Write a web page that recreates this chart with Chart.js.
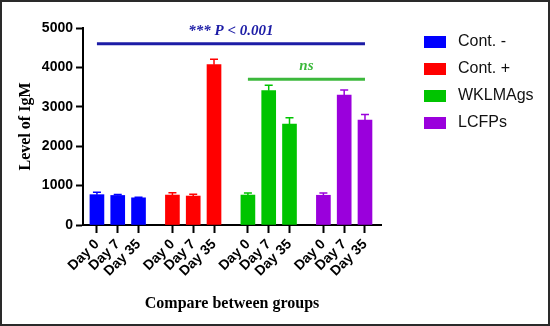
<!DOCTYPE html>
<html>
<head>
<meta charset="utf-8">
<script src="https://cdn.jsdelivr.net/npm/chart.js@4/dist/chart.umd.min.js"></script>
<style>
  html, body { margin: 0; padding: 0; background: #fff; }
  #wrap { position: relative; width: 550px; height: 326px; }
  #frame { position: absolute; left: 0; top: 0; width: 550px; height: 326px; box-sizing: border-box; border: 2px solid #2a2a2a; pointer-events: none; }
</style>
</head>
<body>
<div id="wrap">
  <canvas id="chart" width="550" height="326"></canvas>
  <div id="frame"></div>
</div>
<script>
// data
const groups = ['Cont. -', 'Cont. +', 'WKLMAgs', 'LCFPs'];
const days = ['Day 0', 'Day 7', 'Day 35'];
const contNeg = [770, 750, 690];
const contPos = [760, 735, 4070];
const wklm = [760, 3410, 2560];
const lcfp = [755, 3300, 2660];
const contNegErr = [60, 25, 15];
const contPosErr = [60, 45, 140];
const wklmErr = [55, 140, 160];
const lcfpErr = [55, 125, 145];
const colors = ['#0000ff', '#ff0000', '#00c400', '#9a00dc'];
const yTicks = [0, 1000, 2000, 3000, 4000, 5000];

// significance bars: [first group, last group], level, text
const sigSpans = [[0, 3], [2, 3]];
const sigLevels = [4600, 3700];
const sigLabels = ['*** P < 0.001', 'ns'];
const sigColors = ['#1c1ca6', '#3cb83c'];

const groupStep = 3.63;
const pos = (g, d) => g * groupStep + d;

const values = [contNeg, contPos, wklm, lcfp];
const errors = [contNegErr, contPosErr, wklmErr, lcfpErr];

const datasets = groups.map((name, g) => ({
    label: name,
    data: values[g].map((v, d) => ({ x: pos(g, d), y: v })),
    backgroundColor: colors[g],
    borderWidth: 0,
    barThickness: 14,
    grouped: false,
    errs: errors[g]
}));

const tickPositions = [];
groups.forEach((_, g) => days.forEach((_, d) => tickPositions.push(pos(g, d))));

// error bars (upper half only)
const errorBars = {
    id: 'errorBars',
    afterDatasetsDraw(chart) {
        const ctx = chart.ctx;
        const y = chart.scales.y;
        chart.data.datasets.forEach((ds, i) => {
            const meta = chart.getDatasetMeta(i);
            meta.data.forEach((bar, j) => {
                const top = y.getPixelForValue(ds.data[j].y);
                const end = y.getPixelForValue(ds.data[j].y + ds.errs[j]);
                ctx.save();
                ctx.strokeStyle = ds.backgroundColor;
                ctx.lineWidth = 1.5;
                ctx.beginPath();
                ctx.moveTo(bar.x, top);
                ctx.lineTo(bar.x, end);
                ctx.moveTo(bar.x - 4, end);
                ctx.lineTo(bar.x + 4, end);
                ctx.stroke();
                ctx.restore();
            });
        });
    }
};

// significance lines and labels
const sigBars = {
    id: 'sigBars',
    afterDatasetsDraw(chart) {
        const ctx = chart.ctx;
        const x = chart.scales.x, y = chart.scales.y;
        sigLevels.forEach((lvl, i) => {
            const x1 = x.getPixelForValue(pos(sigSpans[i][0], 0));
            const x2 = x.getPixelForValue(pos(sigSpans[i][1], 2));
            const py = y.getPixelForValue(lvl);
            ctx.save();
            ctx.strokeStyle = sigColors[i];
            ctx.lineWidth = 3;
            ctx.beginPath();
            ctx.moveTo(x1, py);
            ctx.lineTo(x2, py);
            ctx.stroke();
            ctx.fillStyle = sigColors[i];
            ctx.font = 'italic bold 15px "Liberation Serif", "Times New Roman", serif';
            ctx.textAlign = 'center';
            ctx.textBaseline = 'middle';
            ctx.fillText(sigLabels[i], (x1 + x2) / 2, py - 13);
            ctx.restore();
        });
    }
};

// legend on the right
const sideLegend = {
    id: 'sideLegend',
    afterDraw(chart) {
        const ctx = chart.ctx;
        ctx.save();
        ctx.font = '16px "Liberation Sans", Arial, sans-serif';
        ctx.textBaseline = 'middle';
        chart.data.datasets.forEach((ds, i) => {
            const cy = 42 + i * 27;
            ctx.fillStyle = ds.backgroundColor;
            ctx.fillRect(424, cy - 6, 22, 12);
            ctx.fillStyle = '#111';
            ctx.fillText(ds.label, 458, cy);
        });
        ctx.restore();
    }
};

new Chart(document.getElementById('chart'), {
    type: 'bar',
    data: { datasets: datasets },
    options: {
        responsive: false,
        animation: false,
        layout: { padding: { top: 28, right: 169, bottom: 0, left: 0 } },
        plugins: { legend: { display: false }, tooltip: { enabled: false } },
        scales: {
            x: {
                type: 'linear',
                offset: false,
                min: -0.67,
                max: 3 * groupStep + 2 + 0.77,
                afterBuildTicks: function(scale) {
                    scale.ticks = tickPositions.map(v => ({ value: v }));
                },
                afterFit: function(scale) { scale.height = 101; },
                grid: { offset: false, drawOnChartArea: false, tickLength: 8, tickWidth: 2, tickColor: '#000' },
                border: { color: '#000', width: 2 },
                ticks: {
                    autoSkip: false,
                    minRotation: 45,
                    maxRotation: 45,
                    padding: 3,
                    color: '#000',
                    font: { family: '"Liberation Sans", Arial, sans-serif', size: 14, weight: 'bold' },
                    callback: function(value, index) { return days[index % days.length]; }
                },
                title: {
                    display: true,
                    text: 'Compare between groups',
                    color: '#000',
                    font: { family: '"Liberation Serif", "Times New Roman", serif', size: 16, weight: 'bold' },
                    padding: { top: 0, bottom: 13 }
                }
            },
            y: {
                min: 0,
                max: 5000,
                afterBuildTicks: function(scale) {
                    scale.ticks = yTicks.map(v => ({ value: v }));
                },
                afterFit: function(scale) { scale.width = 83; },
                grid: { drawOnChartArea: false, tickLength: 7, tickWidth: 2, tickColor: '#000' },
                border: { color: '#000', width: 2 },
                ticks: {
                    padding: 3,
                    color: '#000',
                    font: { family: '"Liberation Sans", Arial, sans-serif', size: 14, weight: 'bold' },
                    callback: function(value) { return String(value); }
                },
                title: {
                    display: true,
                    text: 'Level of IgM',
                    color: '#000',
                    font: { family: '"Liberation Serif", "Times New Roman", serif', size: 16, weight: 'bold' },
                    padding: { top: 16, bottom: 0 }
                }
            }
        }
    },
    plugins: [errorBars, sigBars, sideLegend]
});
</script>
</body>
</html>
